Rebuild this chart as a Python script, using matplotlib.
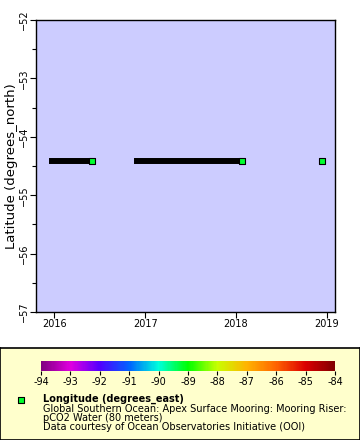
import numpy as np
import pandas as pd
import matplotlib
matplotlib.use("Agg")
import matplotlib.pyplot as plt
import matplotlib.dates as mdates
from matplotlib.colors import LinearSegmentedColormap, Normalize

# deployment segments (start, end) of the mooring riser pCO2 record
seg_start = ["2015-12-25", "2016-11-30", "2018-12-14"]
seg_end = ["2016-06-03", "2018-01-25", "2018-12-14"]
seg_lat = [-54.41, -54.41, -54.41]
seg_lon = [-89.2, -89.2, -89.2]

cbar_ticks = [-94, -93, -92, -91, -90, -89, -88, -87, -86, -85, -84]
cbar_colors = ["#800080", "#e000e0", "#5000ff", "#0064ff", "#00ffdc", "#00ff00",
               "#c8ff00", "#ffb400", "#ff6400", "#dc0000", "#800000"]

cmap = LinearSegmentedColormap.from_list("rainbow2", cbar_colors)
norm = Normalize(-94, -84)

W, H = 360, 440
fig = plt.figure(figsize=(W / 100, H / 100), dpi=100)
fs = 7

ax = fig.add_axes([36 / W, 1 - 312 / H, (335 - 36) / W, (312 - 20) / H])
ax.set_facecolor("#ccccff")

for s, e, la, lo in zip(seg_start, seg_end, seg_lat, seg_lon):
    t0, t1 = pd.Timestamp(s), pd.Timestamp(e)
    if t1 > t0:
        ax.plot([t0, t1], [la, la], color="black", lw=4.3, solid_capstyle="projecting", zorder=2)
    ax.scatter([t1], [la], marker="s", s=16, c=[lo], cmap=cmap, norm=norm,
               edgecolors="black", linewidths=0.8, zorder=3)

ax.set_xlim(pd.Timestamp("2015-10-20"), pd.Timestamp("2019-02-03"))
ax.set_ylim(-57, -52)
ax.xaxis.set_major_locator(mdates.YearLocator())
ax.xaxis.set_major_formatter(mdates.DateFormatter("%Y"))
ax.yaxis.set_major_locator(plt.MultipleLocator(1))
ax.yaxis.set_minor_locator(plt.MultipleLocator(0.5))
ax.tick_params(labelsize=fs, length=4, width=0.8, pad=1)
ax.tick_params(axis="y", which="minor", length=3, width=0.8)
for lbl in ax.get_yticklabels():
    lbl.set_rotation(90)
    lbl.set_va("center")
ax.set_ylabel("Latitude (degrees_north)", fontsize=9.5, labelpad=1)
for sp in ax.spines.values():
    sp.set_linewidth(1)

# legend panel
leg = fig.add_axes([0, 0, 1, (440 - 348) / H])
leg.set_facecolor("#ffffcc")
leg.set_xlim(0, W)
leg.set_ylim(440, 348)
leg.set_xticks([])
leg.set_yticks([])
for sp in leg.spines.values():
    sp.set_linewidth(1.2)
leg.scatter([21], [400], marker="s", s=16, c=[seg_lon[0]], cmap=cmap, norm=norm,
            edgecolors="black", linewidths=0.8)

cax = fig.add_axes([41 / W, 1 - 371 / H, (335 - 41) / W, 10 / H])
cb = fig.colorbar(plt.cm.ScalarMappable(norm=norm, cmap=cmap), cax=cax,
                  orientation="horizontal", ticks=cbar_ticks)
cb.outline.set_visible(False)
cax.tick_params(labelsize=fs, length=3, width=0.8, pad=1)
cax.set_xticklabels([str(t) for t in cbar_ticks])

lx = 43 / W
fig.text(lx, 1 - 399 / H, "Longitude (degrees_east)", fontsize=fs, fontweight="bold", va="center")
fig.text(lx, 1 - 409 / H, "Global Southern Ocean: Apex Surface Mooring: Mooring Riser:", fontsize=fs, va="center")
fig.text(lx, 1 - 418 / H, "pCO2 Water (80 meters)", fontsize=fs, va="center")
fig.text(lx, 1 - 427 / H, "Data courtesy of Ocean Observatories Initiative (OOI)", fontsize=fs, va="center")

fig.savefig("out.png", dpi=100)
